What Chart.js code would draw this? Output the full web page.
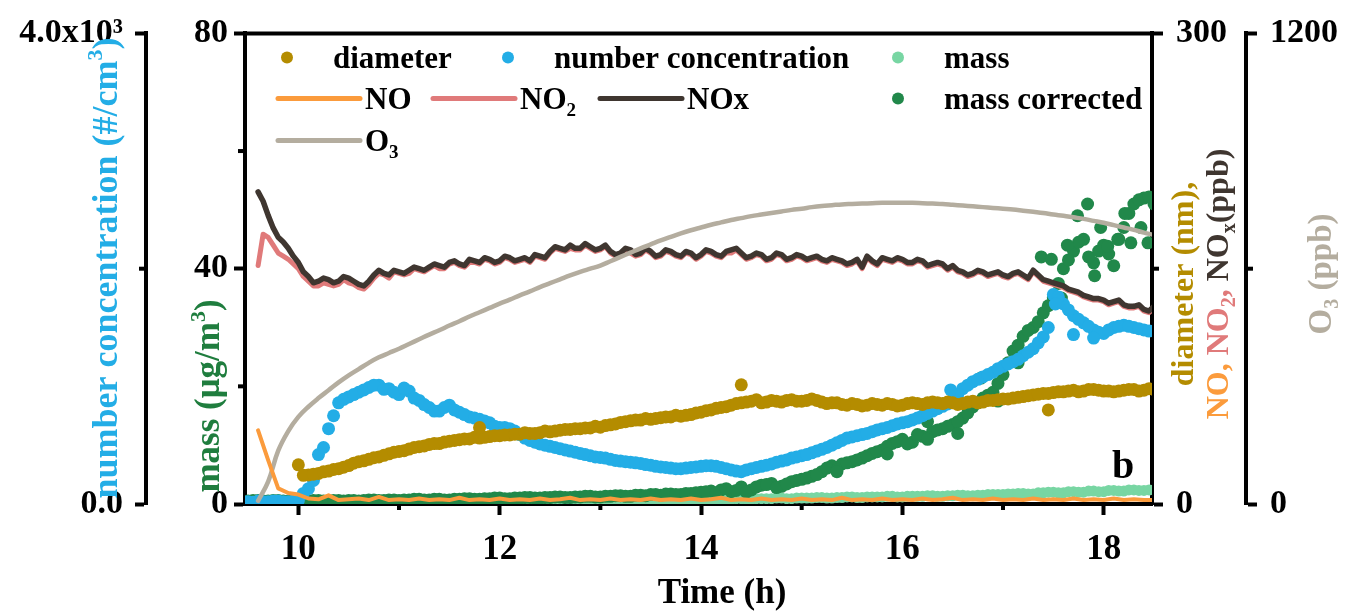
<!DOCTYPE html>
<html>
<head>
<meta charset="utf-8">
<title>Chamber run b</title>
<script src="https://cdn.jsdelivr.net/npm/chart.js@4"></script>
<style>
  html, body { margin: 0; padding: 0; background: #fff; }
</style>
</head>
<body>
<canvas id="chart" width="1360" height="614"></canvas>
<script>
"use strict";

// ── Fonts / colours ────────────────────────────────────────────────────────
const SERIF = '"Liberation Serif", "Times New Roman", serif';
const C = {
  diameter: "#b48c00",
  number:   "#23ade6",
  mass:     "#78d6a3",
  massCorr: "#21884a",
  no:       "#fb9b3c",
  no2:      "#e07a7a",
  nox:      "#3f3630",
  o3:       "#b4ad9f",
};

// ── Data ───────────────────────────────────────────────────────────────────
const hours = [
  9.5, 9.6, 9.7, 9.8, 9.9,
  10.0, 10.1, 10.2, 10.3, 10.4, 10.5, 10.6, 10.7, 10.8, 10.9,
  11.0, 11.1, 11.2, 11.3, 11.4, 11.5, 11.6, 11.7, 11.8, 11.9,
  12.0, 12.1, 12.2, 12.3, 12.4, 12.5, 12.6, 12.7, 12.8, 12.9,
  13.0, 13.1, 13.2, 13.3, 13.4, 13.5, 13.6, 13.7, 13.8, 13.9,
  14.0, 14.1, 14.2, 14.3, 14.4, 14.5, 14.6, 14.7, 14.8, 14.9,
  15.0, 15.1, 15.2, 15.3, 15.4, 15.5, 15.6, 15.7, 15.8, 15.9,
  16.0, 16.1, 16.2, 16.3, 16.4, 16.5, 16.6, 16.7, 16.8, 16.9,
  17.0, 17.1, 17.2, 17.3, 17.4, 17.5, 17.6, 17.7, 17.8, 17.9,
  18.0, 18.1, 18.2, 18.3, 18.4, 18.5,
];
// in-between samples
const hoursHalf = [
  9.55, 9.65, 9.75, 9.85, 9.95,
  10.05, 10.15, 10.25, 10.35, 10.45, 10.55, 10.65, 10.75, 10.85, 10.95,
  11.05, 11.15, 11.25, 11.35, 11.45, 11.55, 11.65, 11.75, 11.85, 11.95,
  12.05, 12.15, 12.25, 12.35, 12.45, 12.55, 12.65, 12.75, 12.85, 12.95,
  13.05, 13.15, 13.25, 13.35, 13.45, 13.55, 13.65, 13.75, 13.85, 13.95,
  14.05, 14.15, 14.25, 14.35, 14.45, 14.55, 14.65, 14.75, 14.85, 14.95,
  15.05, 15.15, 15.25, 15.35, 15.45, 15.55, 15.65, 15.75, 15.85, 15.95,
  16.05, 16.15, 16.25, 16.35, 16.45, 16.55, 16.65, 16.75, 16.85, 16.95,
  17.05, 17.15, 17.25, 17.35, 17.45, 17.55, 17.65, 17.75, 17.85, 17.95,
  18.05, 18.15, 18.25, 18.35, 18.45,
];

// ppb
const noxPpb = [
  null, 199, 184, 170, 163,
  154, 145, 142, 143, 142, 144, 140, 142, 149, 146,
  148, 149, 150, 151, 152, 154, 153, 156, 154, 156,
  155, 157, 156, 155, 158, 161, 163, 165, 163, 164,
  163, 161, 160, 162, 160, 161, 159, 161, 158, 160,
  159, 161, 158, 162, 160, 158, 159, 157, 159, 157,
  158, 157, 156, 157, 155, 154, 151, 155, 157, 155,
  156, 154, 155, 153, 153, 152, 148, 147, 148, 147,
  146, 147, 146, 149, 143, 141, 139, 136, 133, 131,
  130, 129, 127, 126, 124, 126,
];
const noxHalfPpb = [
  null, 193, 176, 167, 158,
  148, 141, 144, 141, 145, 142, 139, 146, 147, 149,
  147, 151, 149, 153, 151, 155, 152, 155, 157, 154,
  158, 155, 157, 159, 157, 164, 162, 163, 166, 162,
  165, 159, 163, 159, 163, 158, 162, 159, 161, 157,
  162, 159, 161, 163, 157, 160, 156, 160, 156, 159,
  156, 158, 155, 156, 153, 156, 158, 153, 156, 157,
  154, 156, 152, 154, 150, 149, 146, 149, 146, 148,
  145, 148, 144, 146, 142, 140, 137, 135, 132, 131,
  128, 130, 126, 127, 123,
];
const no2Ppb = [
  null, 152, 170, 160, 156,
  150, 142, 139, 140, 140, 141, 138, 140, 147, 144,
  147, 147, 149, 150, 150, 153, 152, 154, 153, 155,
  154, 156, 155, 154, 157, 160, 162, 163, 162, 163,
  162, 160, 159, 160, 159, 160, 158, 160, 157, 159,
  158, 160, 157, 160, 159, 157, 158, 156, 158, 156,
  157, 156, 155, 156, 154, 153, 150, 154, 156, 154,
  155, 153, 154, 152, 152, 151, 147, 146, 147, 146,
  145, 146, 145, 148, 142, 140, 138, 135, 132, 130,
  129, 128, 126, 125, 123, 125,
];
const no2HalfPpb = [
  null, 172, 165, 158, 153,
  145, 139, 141, 139, 143, 140, 137, 144, 146, 148,
  146, 150, 148, 152, 150, 154, 151, 154, 156, 153,
  157, 154, 156, 158, 156, 163, 161, 162, 165, 161,
  164, 158, 162, 158, 162, 157, 161, 158, 160, 156,
  161, 158, 160, 162, 156, 159, 155, 159, 155, 158,
  155, 157, 154, 155, 152, 155, 157, 152, 155, 156,
  153, 155, 151, 153, 149, 148, 145, 148, 145, 147,
  144, 147, 143, 145, 141, 139, 136, 134, 131, 130,
  127, 129, 125, 126, 122,
];
const noPpb = [
  null, 47, 28, 10, 7,
  6, 3.5, 3, 5.5, 2.5, 3, 3.5, 2.5, 4.5, 2.5,
  3, 2.5, 3.5, 2.5, 3, 2.5, 4, 2.5, 3, 2.5,
  3.5, 2.5, 3, 2.5, 3.5, 2.5, 3, 4, 2.5, 3,
  2.5, 3.5, 2.5, 3, 2.5, 3.5, 2.5, 3, 2.5, 3.5,
  2.5, 3, 4, 2.5, 3, 2.5, 3.5, 2.5, 3, 2.5,
  3.5, 2.5, 3, 2.5, 4, 2.5, 3, 2.5, 3.5, 2.5,
  3, 2.5, 3.5, 2.5, 3, 4, 2.5, 3, 2.5, 3.5,
  2.5, 3, 2.5, 3.5, 2.5, 3, 2.5, 3.5, 2.5, 3,
  2.5, 3.5, 2.5, 3, 2.5, 2.5,
];
const o3Ppb = [
  null, 8, 57, 136, 186,
  222, 248, 270, 290, 310, 328, 344, 360, 374, 385,
  396, 408, 420, 432, 443, 455, 466, 478, 489, 500,
  511, 521, 532, 542, 553, 563, 573, 583, 592, 600,
  608, 619, 630, 641, 652, 662, 672, 681, 690, 698,
  705, 712, 718, 724, 729, 734, 738, 742, 746, 750,
  753, 757, 760, 762, 764, 765, 766, 767, 768, 768,
  768, 768, 767, 766, 765, 763, 761, 759, 757, 755,
  753, 751, 748, 745, 742, 738, 735, 731, 727, 722,
  717, 711, 705, 699, 692, 686,
];

// nm
const diameterNm = [
  null, null, null, null, null,
  25, 18.5, 19.5, 21, 22.5, 24.5, 27, 28.5, 30, 32,
  33.5, 35, 36.5, 38, 38.5, 40, 41, 41.5, 42, 43,
  43.5, 44, 44.5, 45, 45.5, 46, 47, 47.5, 48, 48.5,
  49, 50.5, 52, 53, 53.5, 54, 55, 55.5, 56, 57,
  58.5, 60, 61.5, 63, 64.5, 65.5, 64.5, 66, 65, 66.5,
  65.5, 67, 65, 64.5, 63.5, 64, 62.5, 64, 63, 63.5,
  63, 64.5, 63.5, 65, 64, 64.5, 64, 65.5, 65, 66,
  67, 67.5, 68.5, 69.5, 70.5, 71, 71.5, 72.5, 72, 73,
  72, 71.5, 72.5, 73, 72.5, 73,
];
const diameterHalfNm = [
  null, null, null, null, null,
  18.3, 19, 20.5, 22, 23.5, 26, 27.5, 29.5, 31, 33,
  34, 36, 37, 38.5, 39.5, 40.5, 41.5, 42.5, 42.5, 43.5,
  44, 44.5, 45.5, 45, 46.5, 46.5, 47.5, 48, 48.5, 49.5,
  50, 51, 52.5, 53.5, 54.5, 54.5, 55.5, 56.5, 56.5, 58,
  59.5, 61, 62, 64, 65, 66.5, 65, 65.5, 66, 65.5,
  66, 66, 64, 64.5, 63, 63.5, 63, 63.5, 64, 62.5,
  64, 64, 64.5, 64.5, 65, 63.5, 65, 64.5, 66, 66.5,
  67, 68, 69, 70, 70.5, 71.5, 72, 71.5, 73, 72.5,
  72, 72, 73, 72, 73.5,
];
const diameterExtraH = [11.8, 14.4, 17.45];
const diameterExtraNm = [48.7, 76, 60];

// #/cm3
const numberConc = [
  20, 25, 20, 25, 20,
  30, 130, 420, 640, 860, 910, 950, 990, 1010, 980,
  930, 960, 880, 820, 790, 840, 780, 740, 720, 690,
  650, 640, 590, 540, 510, 490, 470, 450, 430, 410,
  395, 380, 365, 355, 345, 330, 315, 305, 300, 310,
  320, 325, 310, 290, 275, 300, 320, 340, 365, 390,
  410, 435, 465, 500, 540, 570, 590, 615, 640, 665,
  690, 715, 750, 790, 830, 880, 980, 1040, 1080, 1120,
  1170, 1210, 1260, 1320, 1420, 1780, 1700, 1600, 1540, 1480,
  1450, 1500, 1520, 1500, 1480, 1470,
];
const numberHalfConc = [
  15, 20, 25, 20, 25,
  90, 200, 480, 750, 890, 930, 970, 1010, 975, 950,
  985, 900, 845, 790, 820, 800, 760, 730, 705, 660,
  650, 620, 560, 525, 500, 480, 460, 440, 420, 400,
  390, 370, 360, 350, 335, 320, 310, 300, 305, 315,
  325, 320, 300, 280, 290, 310, 330, 355, 375, 400,
  420, 450, 480, 520, 560, 580, 600, 630, 650, 680,
  700, 730, 770, 810, 850, 930, 1010, 1060, 1100, 1150,
  1190, 1230, 1290, 1370, 1500, 1760, 1650, 1570, 1510, 1460,
  1480, 1510, 1510, 1490, 1470,
];
const numberExtraH = [16.48, 17.52, 17.7, 17.9];
const numberExtraConc = [970, 1700, 1440, 1410];

// μg/m3
const massUg = [
  0.3, 0.3, 0.4, 0.3, 0.3,
  0.3, 0.4, 0.3, 0.3, 0.4, 0.3, 0.4, 0.3, 0.4, 0.4,
  0.4, 0.3, 0.4, 0.4, 0.5, 0.4, 0.4, 0.5, 0.4, 0.5,
  0.5, 0.4, 0.5, 0.5, 0.6, 0.5, 0.5, 0.6, 0.5, 0.6,
  0.6, 0.6, 0.7, 0.6, 0.7, 0.7, 0.6, 0.7, 0.8, 0.7,
  0.8, 0.7, 0.8, 0.8, 0.9, 0.8, 0.9, 0.9, 1.0, 0.9,
  1.0, 1.0, 1.1, 1.0, 1.1, 1.2, 1.1, 1.2, 1.2, 1.3,
  1.2, 1.3, 1.3, 1.4, 1.3, 1.4, 1.5, 1.4, 1.5, 1.6,
  1.6, 1.7, 1.8, 1.7, 1.9, 2.0, 1.9, 2.1, 2.0, 2.2,
  2.1, 2.3, 2.2, 2.4, 2.3, 2.4,
];
const massHalfUg = [
  0.3, 0.4, 0.3, 0.3, 0.4,
  0.3, 0.3, 0.4, 0.3, 0.4, 0.3, 0.4, 0.3, 0.4, 0.4,
  0.3, 0.4, 0.4, 0.5, 0.4, 0.4, 0.5, 0.4, 0.5, 0.5,
  0.4, 0.5, 0.5, 0.6, 0.5, 0.5, 0.6, 0.5, 0.6, 0.6,
  0.6, 0.7, 0.6, 0.7, 0.7, 0.6, 0.7, 0.8, 0.7, 0.8,
  0.7, 0.8, 0.8, 0.9, 0.8, 0.9, 0.9, 1.0, 0.9, 1.0,
  1.0, 1.1, 1.0, 1.1, 1.2, 1.1, 1.2, 1.2, 1.3, 1.2,
  1.3, 1.3, 1.4, 1.3, 1.4, 1.5, 1.4, 1.5, 1.6, 1.6,
  1.7, 1.8, 1.7, 1.9, 2.0, 1.9, 2.1, 2.0, 2.2, 2.1,
  2.3, 2.2, 2.4, 2.3, 2.4,
];
const massCorrUg = [
  0.5, 0.6, 0.5, 0.6, 0.5,
  0.6, 0.5, 0.6, 0.5, 0.6, 0.6, 0.5, 0.7, 0.6, 0.7,
  0.6, 0.7, 0.8, 0.7, 0.8, 0.7, 0.8, 0.9, 0.8, 0.9,
  1.0, 0.9, 1.0, 1.1, 1.0, 1.1, 1.2, 1.1, 1.2, 1.3,
  1.2, 1.3, 1.4, 1.3, 1.5, 1.6, 1.5, 1.7, 1.6, 1.8,
  2.0, 2.2, 2.4, 2.1, 2.9, 2.4, 3.2, 3.5, 3.0, 3.8,
  4.2, 4.7, 5.5, 6.5, 6.8, 7.2, 7.8, 8.6, 9.2, 10.3,
  11.0, 10.5, 11.5, 12.3, 12.8, 13.5, 14.6, 16.5, 18.0, 19.0,
  22.0, 26.0, 28.5, 30.0, 32.5, 35.0, 40.0, 43.0, 45.0, 41.0,
  44.0, 40.5, 47.0, 51.0, 52.0, 51.0,
];
const massCorrHalfUg = [
  0.6, 0.5, 0.6, 0.5, 0.6,
  0.5, 0.6, 0.5, 0.6, 0.5, 0.6, 0.6, 0.7, 0.6, 0.7,
  0.7, 0.8, 0.7, 0.8, 0.7, 0.8, 0.9, 0.8, 0.9, 1.0,
  0.9, 1.0, 1.1, 1.0, 1.1, 1.2, 1.1, 1.2, 1.3, 1.2,
  1.3, 1.4, 1.3, 1.5, 1.4, 1.6, 1.7, 1.6, 1.8, 1.9,
  2.1, 1.9, 2.6, 2.3, 2.0, 2.9, 3.3, 2.8, 3.4, 4.0,
  4.4, 5.0, 6.1, 5.8, 7.0, 7.5, 8.2, 8.9, 9.8, 10.6,
  10.2, 11.8, 11.0, 12.6, 13.2, 14.0, 15.5, 17.2, 18.5, 20.5,
  24.0, 27.0, 29.5, 31.0, 33.7, 37.5, 41.5, 44.5, 42.0, 43.0,
  42.5, 45.0, 49.4, 51.7, 52.2,
];
const massCorrExtraH = [15.35, 15.85, 16.25, 16.55, 16.78, 16.95, 17.15, 17.38, 17.48, 17.58, 17.64,
                        17.74, 17.84, 17.91, 17.97, 18.04, 18.14, 18.21, 18.27, 18.37, 18.44];
const massCorrExtraUg = [5.5, 8.5, 14.0, 12.0, 21.4, 17.5, 24.0, 42.0, 41.6, 35.0, 44.0,
                         49.0, 51.0, 38.8, 47.0, 43.8, 45.0, 49.4, 44.4, 47.0, 44.4];

// ── Axes ───────────────────────────────────────────────────────────────────
const xRange = [9.47, 18.48];
const xTicks = [10, 12, 14, 16, 18];
const xMinor = [11, 13, 15, 17];
const numTicks = [0, 4000];
const numTickLabels = ["0.0", "4.0x10³"];
const numMinor = [2000];
const massTicks = [0, 40, 80];
const massMinor = [20, 60];
const ppbTicks = [0, 300];
const ppbMinor = [150];
const o3Ticks = [0, 1200];
const o3Minor = [600];

const pts = (xs, ys) => xs.map((x, i) => ({ x, y: ys[i] }));
const merged = (a, b) => a.concat(b).sort((p, q) => p.x - q.x);

function yAxis(pos, weight, max, ticks, labels, width, pad) {
  return {
    type: "linear",
    position: pos,
    weight,
    min: 0,
    max,
    afterFit: (s) => { s.width = width; },
    afterBuildTicks: (s) => { s.ticks = ticks.map((v) => ({ value: v })); },
    grid: { drawOnChartArea: false, drawTicks: true, tickLength: 11, tickWidth: 4, tickColor: "#000" },
    border: { display: true, width: 4, color: "#000" },
    ticks: {
      padding: pad,
      color: "#000",
      font: { family: SERIF, size: 34, weight: "bold" },
      callback: (v, i) => (labels ? labels[i] : String(v)),
    },
  };
}

// ── Rich text (sub / superscripts) ─────────────────────────────────────────
function segFont(size, s) {
  return `bold ${s.s ? Math.round(size * 0.62) : size}px ${SERIF}`;
}
function richWidth(ctx, segs, size) {
  let w = 0;
  for (const s of segs) { ctx.font = segFont(size, s); w += ctx.measureText(s.t).width; }
  return w;
}
function drawRich(ctx, segs, x, y, size, color) {
  ctx.textBaseline = "alphabetic";
  ctx.textAlign = "left";
  for (const s of segs) {
    ctx.font = segFont(size, s);
    ctx.fillStyle = s.c || color;
    const dy = s.s === "sub" ? size * 0.22 : s.s === "sup" ? -size * 0.4 : 0;
    ctx.fillText(s.t, x, y + dy);
    x += ctx.measureText(s.t).width;
  }
}
function drawRotated(ctx, segs, cx, cy, size, color) {
  ctx.save();
  ctx.translate(cx, cy);
  ctx.rotate(-Math.PI / 2);
  drawRich(ctx, segs, -richWidth(ctx, segs, size) / 2, size * 0.33, size, color);
  ctx.restore();
}

// ── Titles / legend layout ─────────────────────────────────────────────────
const axisTitles = [
  { segs: [{ t: "number concentration (#/cm" }, { t: "3", s: "sup" }, { t: ")" }], color: C.number, x: 105, y: 268, size: 36 },
  { segs: [{ t: "mass (μg/m" }, { t: "3", s: "sup" }, { t: ")" }], color: "#1f7d3e", x: 207, y: 396, size: 35 },
  { segs: [{ t: "diameter (nm)," }], color: C.diameter, x: 1182, y: 284, size: 32 },
  { segs: [{ t: "NO, ", c: C.no }, { t: "NO", c: C.no2 }, { t: "2", s: "sub", c: C.no2 }, { t: ", ", c: C.no2 },
           { t: "NO", c: C.nox }, { t: "x", s: "sub", c: C.nox }, { t: "(ppb)", c: C.nox }], color: C.nox, x: 1217, y: 284, size: 32 },
  { segs: [{ t: "O" }, { t: "3", s: "sub" }, { t: " (ppb)" }], color: C.o3, x: 1320, y: 274, size: 33 },
];

const legendItems = [
  { segs: [{ t: "diameter" }], color: C.diameter, kind: "dot", dx: 42, row: 0 },
  { segs: [{ t: "number concentration" }], color: C.number, kind: "dot", dx: 263, row: 0 },
  { segs: [{ t: "mass" }], color: C.mass, kind: "dot", dx: 653, row: 0 },
  { segs: [{ t: "NO" }], color: C.no, kind: "line", dx: 33, row: 1 },
  { segs: [{ t: "NO" }, { t: "2", s: "sub" }], color: C.no2, kind: "line", dx: 188, row: 1 },
  { segs: [{ t: "NOx" }], color: C.nox, kind: "line", dx: 355, row: 1 },
  { segs: [{ t: "mass corrected" }], color: C.massCorr, kind: "dot", dx: 653, row: 1 },
  { segs: [{ t: "O" }, { t: "3", s: "sub" }], color: C.o3, kind: "line", dx: 33, row: 2 },
];
const legendRows = [24, 65, 107];

// ── Plugin: frame, minor ticks, titles, legend ─────────────────────────────
const decorPlugin = {
  id: "decor",
  afterDraw(chart) {
    const { ctx, chartArea: a, scales } = chart;
    ctx.save();

    // top frame line
    ctx.strokeStyle = "#000";
    ctx.lineWidth = 4;
    ctx.beginPath();
    ctx.moveTo(a.left - 2, a.top);
    ctx.lineTo(a.right + 2, a.top);
    ctx.stroke();

    // minor ticks
    const minor = (scale, values, side) => {
      for (const v of values) {
        const p = scale.getPixelForValue(v);
        ctx.beginPath();
        if (side === "left") { ctx.moveTo(scale.right, p); ctx.lineTo(scale.right - 7, p); }
        else if (side === "right") { ctx.moveTo(scale.left, p); ctx.lineTo(scale.left + 7, p); }
        else { ctx.moveTo(p, scale.top); ctx.lineTo(p, scale.top + 6); }
        ctx.stroke();
      }
    };
    minor(scales.x, xMinor, "bottom");
    minor(scales.yNum, numMinor, "left");
    minor(scales.yMass, massMinor, "left");
    minor(scales.yPpb, ppbMinor, "right");
    minor(scales.yO3, o3Minor, "right");

    // axis titles
    for (const t of axisTitles) drawRotated(ctx, t.segs, t.x, t.y, t.size, t.color);
    const xt = [{ t: "Time (h)" }];
    drawRich(ctx, xt, 722 - richWidth(ctx, xt, 35) / 2, 603, 35, "#000");

    // legend
    for (const it of legendItems) {
      const y = a.top + legendRows[it.row];
      const x = a.left + it.dx;
      let tx;
      if (it.kind === "dot") {
        ctx.fillStyle = it.color;
        ctx.beginPath();
        ctx.arc(x, y, 6, 0, Math.PI * 2);
        ctx.fill();
        tx = x + 46;
      } else {
        ctx.strokeStyle = it.color;
        ctx.lineWidth = 5;
        ctx.lineCap = "round";
        ctx.beginPath();
        ctx.moveTo(x, y);
        ctx.lineTo(x + 82, y);
        ctx.stroke();
        tx = x + 87;
      }
      drawRich(ctx, it.segs, tx, y + 11, 31, "#000");
    }

    // panel letter
    drawRich(ctx, [{ t: "b" }], a.right - 40, a.bottom - 26, 40, "#000");
    ctx.restore();
  },
};

// ── Chart ──────────────────────────────────────────────────────────────────
const lineDs = (label, data, color, axis, width, tension) => ({
  type: "line", label, data, yAxisID: axis,
  borderColor: color, backgroundColor: color, borderWidth: width,
  pointRadius: 0, tension, borderJoinStyle: "round", borderCapStyle: "round",
});
const dotDs = (label, data, color, axis, r) => ({
  type: "scatter", label, data, yAxisID: axis,
  backgroundColor: color, borderWidth: 0, pointRadius: r, pointHoverRadius: r,
});

new Chart(document.getElementById("chart"), {
  data: {
    datasets: [
      lineDs("NO", pts(hours, noPpb), C.no, "yPpb", 4, 0),
      lineDs("O3", pts(hours, o3Ppb), C.o3, "yO3", 4.5, 0.4),
      lineDs("NOx", merged(pts(hours, noxPpb), pts(hoursHalf, noxHalfPpb)), C.nox, "yPpb", 5.5, 0),
      lineDs("NO2", merged(pts(hours, no2Ppb), pts(hoursHalf, no2HalfPpb)), C.no2, "yPpb", 5, 0),
      dotDs("diameter",
        pts(hours, diameterNm).concat(pts(hoursHalf, diameterHalfNm), pts(diameterExtraH, diameterExtraNm)),
        C.diameter, "yPpb", 6.5),
      dotDs("number concentration",
        pts(hours, numberConc).concat(pts(hoursHalf, numberHalfConc), pts(numberExtraH, numberExtraConc)),
        C.number, "yNum", 6.5),
      dotDs("mass corrected",
        pts(hours, massCorrUg).concat(pts(hoursHalf, massCorrHalfUg), pts(massCorrExtraH, massCorrExtraUg)),
        C.massCorr, "yMass", 6.5),
      dotDs("mass", pts(hours, massUg).concat(pts(hoursHalf, massHalfUg)), C.mass, "yMass", 5.5),
    ],
  },
  options: {
    responsive: false,
    animation: false,
    devicePixelRatio: 1,
    layout: { padding: { top: 28, left: 0, right: 0, bottom: 0 } },
    plugins: { legend: { display: false }, tooltip: { enabled: false } },
    scales: {
      x: {
        type: "linear",
        position: "bottom",
        min: xRange[0],
        max: xRange[1],
        afterFit: (s) => { s.height = 110; },
        afterBuildTicks: (s) => { s.ticks = xTicks.map((v) => ({ value: v })); },
        grid: { drawOnChartArea: false, drawTicks: true, tickLength: 11, tickWidth: 4, tickColor: "#000" },
        border: { display: true, width: 4, color: "#000" },
        ticks: { padding: 14, color: "#000", font: { family: SERIF, size: 35, weight: "bold" }, callback: (v) => String(v) },
      },
      yNum:  yAxis("left", 1, 4000, numTicks, numTickLabels, 146, 12),
      yMass: yAxis("left", 0, 80, massTicks, null, 99, 6),
      yPpb:  yAxis("right", 0, 300, ppbTicks, null, 94, 13),
      yO3:   yAxis("right", 1, 1200, o3Ticks, null, 114, 13),
    },
  },
  plugins: [decorPlugin],
});
</script>
</body>
</html>
